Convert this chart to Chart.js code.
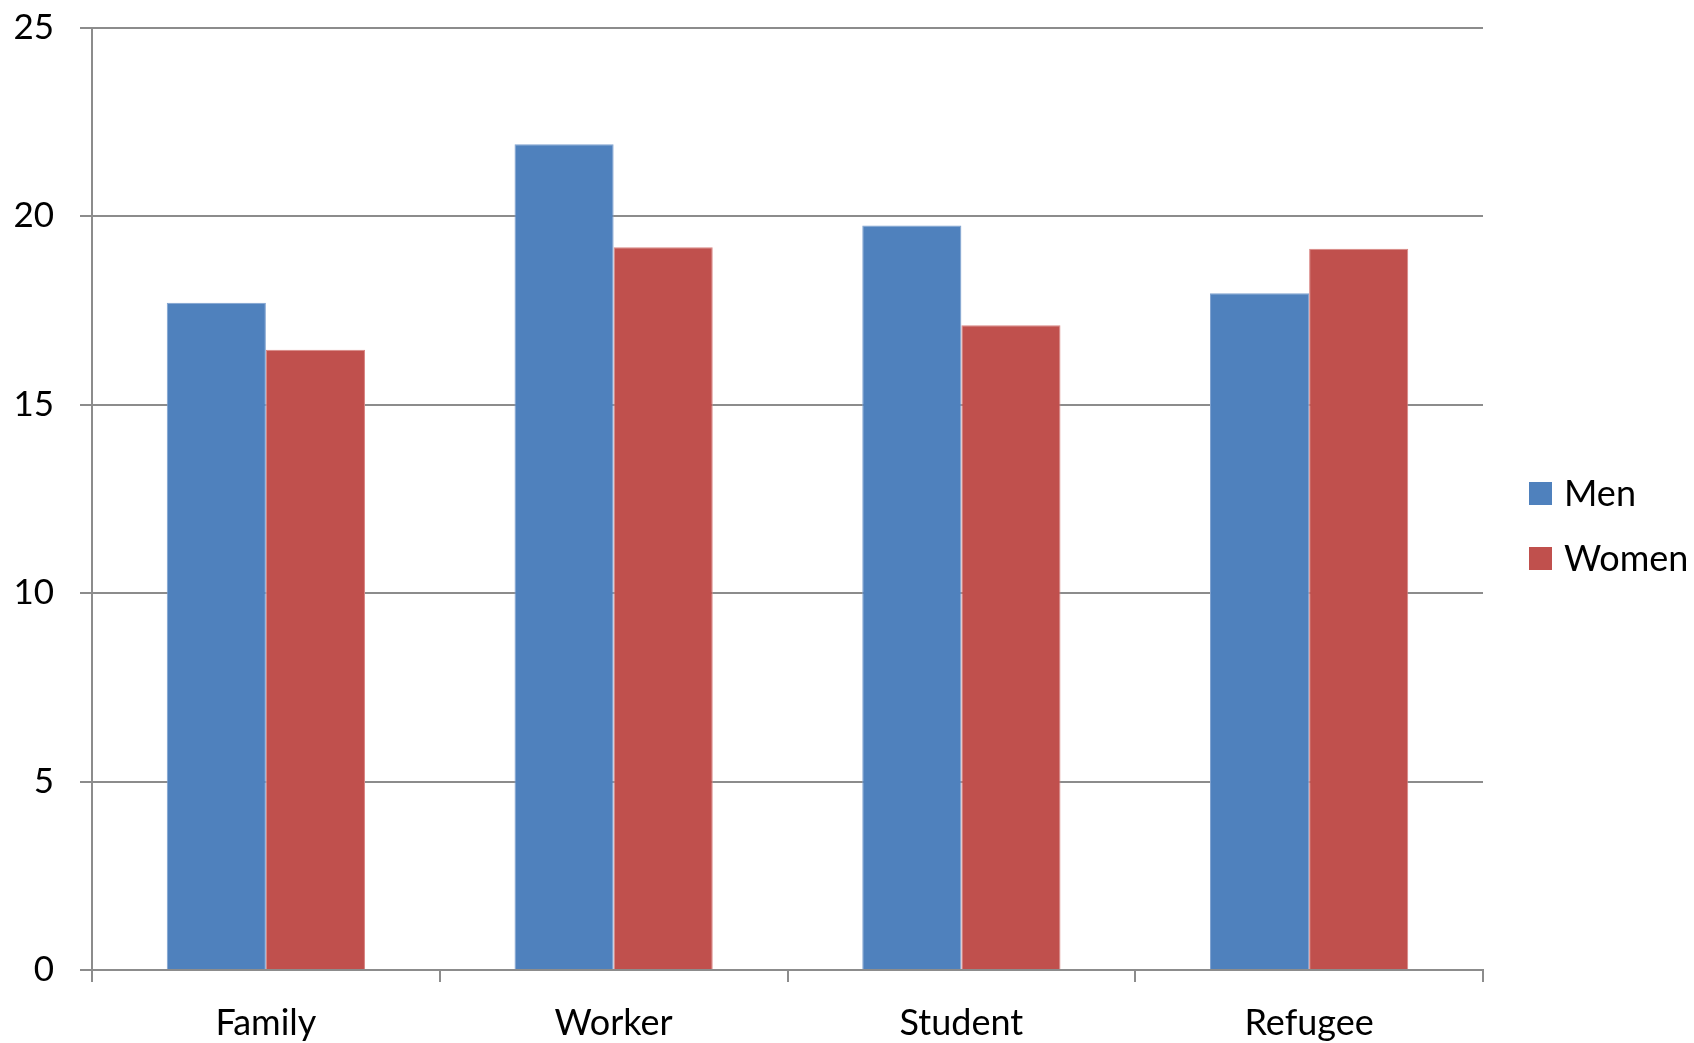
<!DOCTYPE html>
<html>
<head>
<meta charset="utf-8">
<title>Men and Women by category</title>
<script src="https://cdn.jsdelivr.net/npm/chart.js@4/dist/chart.umd.min.js"></script>
<style>
  html, body { margin: 0; padding: 0; background: #ffffff; }
  #wrap { width: 1694px; height: 1043px; }
</style>
</head>
<body>
<div id="wrap"><canvas id="chart" width="1694" height="1043"></canvas></div>
<script>
// Chart data
const categories = ['Family', 'Worker', 'Student', 'Refugee'];
const menValues = [17.7, 21.9, 19.75, 17.95];
const womenValues = [16.45, 19.17, 17.1, 19.13];
const yTicks = [0, 5, 10, 15, 20, 25];

const FONT = "Lato, 'Open Sans', sans-serif";
const GRID = '#8c8c8c';

// Legend drawn beside the plot: square swatch + series name
const sideLegend = {
  id: 'sideLegend',
  afterDraw(chart, args, opts) {
    const ctx = chart.ctx;
    ctx.save();
    ctx.font = opts.fontSize + 'px ' + FONT;
    ctx.textBaseline = 'middle';
    ctx.textAlign = 'left';
    chart.data.datasets.forEach((ds, i) => {
      const top = opts.y + i * opts.step;
      ctx.fillStyle = ds.backgroundColor;
      ctx.fillRect(opts.x, top, opts.box, opts.box);
      ctx.fillStyle = '#000000';
      ctx.fillText(ds.label, opts.x + opts.box + opts.gap, top + opts.box / 2 + 1);
    });
    ctx.restore();
  }
};

new Chart(document.getElementById('chart'), {
  type: 'bar',
  data: {
    labels: categories,
    datasets: [
      { label: 'Men', data: menValues, backgroundColor: '#4f81bd',
        borderColor: '#7ea1cf', borderWidth: { left: 1, right: 1, top: 1, bottom: 0 } },
      { label: 'Women', data: womenValues, backgroundColor: '#c0504d',
        borderColor: '#d98583', borderWidth: { left: 1, right: 1, top: 1, bottom: 0 } }
    ]
  },
  options: {
    responsive: false,
    animation: false,
    devicePixelRatio: 1,
    layout: { padding: { top: 27.5, right: 211, bottom: 0, left: 15 } },
    datasets: { bar: { categoryPercentage: 0.57, barPercentage: 1.0 } },
    plugins: {
      legend: { display: false },
      tooltip: { enabled: false },
      sideLegend: { x: 1529, y: 482, step: 65, box: 23, gap: 12, fontSize: 36 }
    },
    scales: {
      x: {
        offset: true,
        afterFit: (scale) => { scale.height = 73; },
        grid: { display: true, drawOnChartArea: false, drawTicks: true, tickLength: 12, color: GRID, lineWidth: 2 },
        border: { display: true, color: GRID, width: 2 },
        ticks: { color: '#000000', padding: 20, font: { family: FONT, size: 36 } }
      },
      y: {
        min: 0,
        max: 25,
        afterBuildTicks: (scale) => { scale.ticks = yTicks.map(v => ({ value: v })); },
        afterFit: (scale) => { scale.width = 77; scale.paddingTop = 0; scale.paddingBottom = 0; },
        grid: { display: true, drawOnChartArea: true, drawTicks: true, tickLength: 12, color: GRID, lineWidth: 2 },
        border: { display: true, color: GRID, width: 2 },
        ticks: { color: '#000000', padding: 26, font: { family: FONT, size: 35 } }
      }
    }
  },
  plugins: [sideLegend]
});
</script>
</body>
</html>
